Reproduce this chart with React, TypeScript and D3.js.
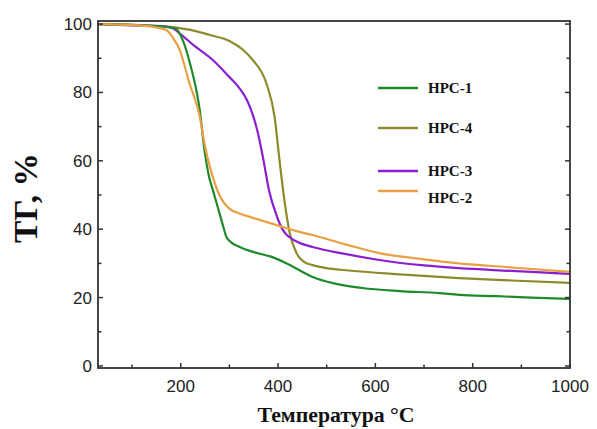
import React from "react";
import * as d3 from "d3";

const hpc1T = [30, 100, 150, 188, 205, 220, 233, 239, 248, 258, 267, 276, 285, 294, 305, 321, 350, 387, 420, 444, 471, 520, 573, 650, 731, 772, 850, 920, 1000];
const hpc1V = [100, 99.8, 99.4, 98.8, 95, 88, 80, 75, 64, 55.5, 51, 46.5, 42, 37.7, 36, 34.8, 33.3, 31.9, 29.8, 28, 26, 24, 22.8, 21.9, 21.3, 20.8, 20.4, 20, 19.6];

const hpc2T = [30, 102, 150, 171, 184, 198, 218, 239, 249, 270, 285, 300, 320, 342, 397, 444, 471, 540, 608, 700, 772, 880, 1000];
const hpc2V = [100, 99.7, 99, 98.2, 96, 92.4, 82.7, 73, 65, 53.5, 48.5, 46, 44.6, 43.6, 41.2, 39.2, 38.3, 35.5, 33, 31.2, 30, 28.8, 27.5];

const hpc3T = [30, 100, 150, 180, 200, 225, 266, 300, 322, 337, 348, 358, 369, 382, 397, 409, 430, 444, 471, 540, 608, 700, 772, 880, 1000];
const hpc3V = [100, 99.6, 99.4, 99, 97, 94, 89.5, 84.5, 81, 77.5, 73.5, 68.5, 61, 51, 44, 40, 37, 36, 34.8, 32.7, 31, 29.4, 28.6, 27.8, 26.9];

const hpc4T = [30, 100, 178, 220, 260, 301, 328, 348, 376, 393, 403, 413, 424, 438, 455, 471, 500, 540, 650, 772, 880, 1000];
const hpc4V = [100, 99.8, 99.2, 98.3, 96.8, 95, 92.5, 89.5, 82.7, 72.8, 60.2, 48.5, 38.9, 33, 30.3, 29.5, 28.6, 28, 26.8, 25.7, 25, 24.3];

const seriesNames = ["HPC-1", "HPC-4", "HPC-3", "HPC-2"];
const seriesColors = ["#1f8a2c", "#8c8a2a", "#8a1ed0", "#eaa042"];

const xTicks = [200, 400, 600, 800, 1000];
const yTicks = [0, 20, 40, 60, 80, 100];

export default function App() {
  const width = 597;
  const height = 429;
  const left = 98, right = 570, top = 21, bottom = 368;
  const x = d3.scaleLinear().domain([30, 1000]).range([left, right]);
  const y = d3.scaleLinear().domain([-0.6, 100.9]).range([bottom, top]);

  const data: Record<string, [number, number][]> = {
    "HPC-1": hpc1T.map((t, i) => [t, hpc1V[i]]),
    "HPC-2": hpc2T.map((t, i) => [t, hpc2V[i]]),
    "HPC-3": hpc3T.map((t, i) => [t, hpc3V[i]]),
    "HPC-4": hpc4T.map((t, i) => [t, hpc4V[i]]),
  };
  const line = d3
    .line<[number, number]>()
    .x((d) => x(d[0]))
    .y((d) => y(d[1]))
    .curve(d3.curveMonotoneX);

  const drawOrder = ["HPC-4", "HPC-3", "HPC-1", "HPC-2"];
  const colorOf = (n: string) => seriesColors[seriesNames.indexOf(n)];

  const xMinor = d3.range(100, 1001, 100);
  const yMinor = d3.range(0, 101, 10);
  const legendY = [88, 128, 171, 191];
  const legendTextY = [88, 128, 171, 198];
  const axisColor = "#333";

  return (
    <svg width={width} height={height} style={{ position: "absolute", left: 0, top: 0, background: "#fff" }}>
      <rect x={0} y={0} width={width} height={height} fill="#fff" />
      {drawOrder.map((n) => (
        <path key={n} d={line(data[n]) || ""} fill="none" stroke={colorOf(n)} strokeWidth={2.2} />
      ))}
      <rect x={left} y={top} width={right - left} height={bottom - top} fill="none" stroke={axisColor} strokeWidth={1.8} />
      {xMinor.map((t) => (
        <line key={"xm" + t} x1={x(t)} x2={x(t)} y1={bottom} y2={bottom - (t % 200 === 0 ? 5 : 3.5)} stroke={axisColor} strokeWidth={1.5} />
      ))}
      {yMinor.map((v) => (
        <line key={"yl" + v} x1={left} x2={left + (v % 20 === 0 ? 5 : 3.5)} y1={y(v)} y2={y(v)} stroke={axisColor} strokeWidth={1.5} />
      ))}
      {yMinor.map((v) => (
        <line key={"yr" + v} x1={right} x2={right - (v % 20 === 0 ? 5 : 3.5)} y1={y(v)} y2={y(v)} stroke={axisColor} strokeWidth={1.5} />
      ))}
      {xTicks.map((t) => (
        <text key={"xt" + t} x={x(t)} y={bottom + 24} textAnchor="middle" fontFamily="Liberation Sans, Arial, sans-serif" fontSize={17} fill="#222">
          {t}
        </text>
      ))}
      {yTicks.map((v) => (
        <text key={"yt" + v} x={left - 6} y={y(v)} dy="0.35em" textAnchor="end" fontFamily="Liberation Sans, Arial, sans-serif" fontSize={17} fill="#222">
          {v}
        </text>
      ))}
      <text
        transform={`translate(37, 198) rotate(-90)`}
        textAnchor="middle"
        fontFamily="Liberation Serif, Times New Roman, serif"
        fontWeight="bold"
        fontSize={34}
        textLength={90}
        lengthAdjust="spacingAndGlyphs"
        fill="#111"
      >
        ТГ, %
      </text>
      <text
        x={336}
        y={422}
        textAnchor="middle"
        fontFamily="Liberation Serif, Times New Roman, serif"
        fontWeight="bold"
        fontSize={21}
        textLength={157}
        lengthAdjust="spacingAndGlyphs"
        fill="#111"
      >
        Температура °C
      </text>
      {seriesNames.map((n, i) => (
        <g key={"lg" + n}>
          <line x1={378} x2={418} y1={legendY[i]} y2={legendY[i]} stroke={seriesColors[i]} strokeWidth={2.5} />
          <text x={428} y={legendTextY[i]} dy="0.35em" fontFamily="Liberation Serif, Times New Roman, serif" fontWeight="bold" fontSize={15} fill="#111">
            {n}
          </text>
        </g>
      ))}
    </svg>
  );
}
